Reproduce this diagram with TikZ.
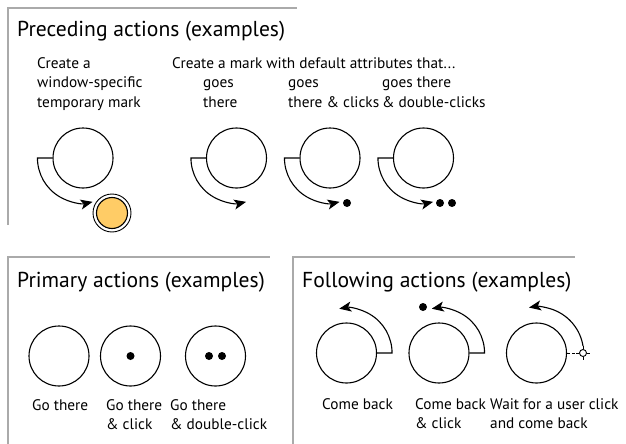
\documentclass[tikz,border=0pt]{standalone}
\usepackage{fontspec}
\setmainfont{PT Sans}
\usetikzlibrary{arrows.meta,calc}

\definecolor{framegray}{RGB}{170,170,170}
\definecolor{markorange}{RGB}{255,204,102}

\begin{document}
\begin{tikzpicture}[x=1pt, y=-1pt,
    frame/.style={draw=framegray, line width=1.4pt},
    ttl/.style={anchor=base west, inner sep=0, font=\fontsize{21.6}{26}\selectfont},
    lbl/.style={anchor=base west, inner sep=0, align=left, font=\fontsize{15.3}{19.5}\selectfont},
    ring/.style={draw, circle, minimum size=60pt, inner sep=0, line width=1.1pt},
    dot/.style={circle, fill, inner sep=0, minimum size=8pt},
    arr/.style={line width=1.1pt, -{Stealth[length=12pt, width=10pt, inset=3pt]}}]
                    \useasboundingbox (0,0) rectangle (626,444);

                    \draw[frame] (8,225) -- (8,8) -- (297,8);
                    \draw[frame] (8,444) -- (8,257) -- (270,257);
                    \draw[frame] (293,444) -- (293,257) -- (575,257);

                    \node [ttl] (t1) at (17,37) {Preceding actions (examples)};
                    \node [ttl] (t2) at (17,287) {Primary actions (examples)};
                    \node [ttl] (t3) at (302,287) {Following actions (examples)};

                    \node [lbl] (la) at (37,107) {Create a\\window-specific\\temporary mark};
                    \node [lbl] (lb) at (172,68) {Create a mark with default attributes that...};
                    \node [lbl] (lc) at (203,107) {goes\\there};
                    \node [lbl] (ld) at (288,107) {goes\\there \& clicks};
                    \node [lbl] (le) at (382,107) {goes there\\\& double-clicks};

                    \node [ring] (pc1) at (83,158) {};
                    \node [ring] (pc2) at (236.5,158) {};
                    \node [ring] (pc3) at (330,158) {};
                    \node [ring] (pc4) at (423.5,158) {};

                    \node [circle, draw, line width=0.9pt, minimum size=38pt, inner sep=0] (tm) at (112,213) {};
                    \filldraw [fill=markorange, line width=1.1pt] (tm.center) circle (15.5);

                    \node [dot] (d1) at (347,203) {};
                    \node [dot] (d2) at (440,203) {};
                    \node [dot] (d3) at (452,203) {};

                    \draw[arr] (pc1.west) -- ++(-15,0) arc[start angle=180, end angle=77, radius=45];
                    \draw[arr] (pc2.west) -- ++(-15,0) arc[start angle=180, end angle=77, radius=45];
                    \draw[arr] (pc3.west) -- ++(-15,0) arc[start angle=180, end angle=77, radius=45];
                    \draw[arr] (pc4.west) -- ++(-15,0) arc[start angle=180, end angle=77, radius=45];

                    \node [ring] (mc1) at (59,356) {};
                    \node [ring] (mc2) at (130.5,356) {};
                    \node [ring] (mc3) at (215.5,356) {};
                    \node [dot] (d4) at (mc2) {};
                    \node [dot] (d5) at (209,356) {};
                    \node [dot] (d6) at (222,356) {};

                    \node [lbl] (lf) at (32,410) {Go there};
                    \node [lbl] (lg) at (106,429.5) {Go there\\\& click};
                    \node [lbl] (lh) at (170,429.5) {Go there\\\& double-click};

                    \node [ring] (fc1) at (346.5,353) {};
                    \node [ring] (fc2) at (439,353) {};
                    \node [ring] (fc3) at (536.5,353) {};
                    \node [dot] (d7) at (423,307) {};

                    \draw[arr] (fc1.east) -- ++(15,0) arc[start angle=0, end angle=-100, radius=45];
                    \draw[arr] (fc2.east) -- ++(15,0) arc[start angle=0, end angle=-100, radius=45];

                    \node [circle, draw, line width=0.9pt, minimum size=7pt, inner sep=0] (mk) at (583,353) {};
                    \draw[line width=0.9pt] (mk.north) -- ++(0,-3) (mk.south) -- ++(0,3)
                                            (mk.west) -- ++(-3,0) (mk.east) -- ++(3,0);
                    \draw[line width=0.9pt, dash pattern=on 3pt off 2pt] (fc3.east) -- ($(mk.west)+(-3,0)$);
                    \draw[arr] ($(mk.north)+(0,-3)$) arc[start angle=-9, end angle=-100, radius=46.5];

                    \node [lbl] (li) at (322,409) {Come back};
                    \node [lbl] (lj) at (415,428.5) {Come back\\\& click};
                    \node [lbl] (lk) at (490,428.5) {Wait for a user click\\and come back};
                \end{tikzpicture}
\end{document}
